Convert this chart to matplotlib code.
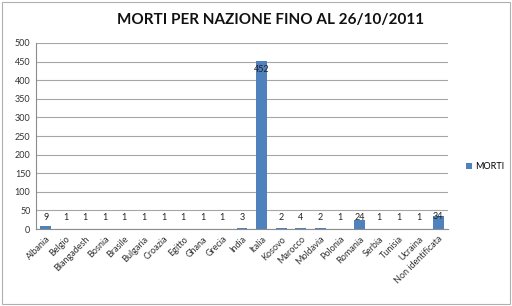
import matplotlib
matplotlib.use('Agg')
import matplotlib.pyplot as plt
from matplotlib.patches import Rectangle
import numpy as np

nazioni = ['Albania', 'Belgio', 'Blangadesh', 'Bosnia', 'Brasile', 'Bulgaria',
           'Croazia', 'Egitto', 'Ghana', 'Grecia', 'India', 'Italia', 'Kosovo',
           'Marocco', 'Moldavia', 'Polonia', 'Romania', 'Serbia', 'Tunisia',
           'Ucraina', 'Non identificata']
morti = [9, 1, 1, 1, 1, 1, 1, 1, 1, 1, 3, 452, 2, 4, 2, 1, 24, 1, 1, 1, 34]
y_ticks = list(range(0, 501, 50))

plt.rcParams['font.family'] = ['Lato', 'DejaVu Sans']

fig = plt.figure(figsize=(5.12, 3.06), dpi=100)
fig.patches.append(Rectangle((0.004, 0.006), 0.992, 0.988, transform=fig.transFigure,
                             fill=False, edgecolor='#b0b0b0', linewidth=0.8))
ax = fig.add_axes([0.0703, 0.2516, 0.8047, 0.6079])

x = np.arange(len(nazioni))
ax.bar(x, morti, width=0.55, color='#4f81bd', label='MORTI', zorder=3)
for xi, v in zip(x, morti):
    y = v - 22 if v > 400 else max(v, 30)
    ax.text(xi, y, str(v), ha='center', va='center', fontsize=6.5, color='#222222', zorder=4)

ax.set_xlim(-0.5, len(nazioni) - 0.5)
ax.set_ylim(0, 500)
ax.set_yticks(y_ticks)
ax.set_yticklabels([str(t) for t in y_ticks], fontsize=6.5, color='#333333')
ax.set_xticks(x)
ax.set_xticklabels(nazioni, rotation=45, ha='right', rotation_mode='anchor',
                   fontsize=6.5, color='#333333')
ax.tick_params(axis='both', length=0, pad=4)
ax.grid(axis='y', color='#a6a6a6', linewidth=0.8, zorder=0)
for s in ['top', 'right']:
    ax.spines[s].set_visible(False)
for s in ['left', 'bottom']:
    ax.spines[s].set_color('#8c8c8c')
    ax.spines[s].set_linewidth(0.8)

fig.text(0.528, 0.935, 'MORTI PER NAZIONE FINO AL 26/10/2011', ha='center', va='center',
         fontsize=11, fontweight='bold', color='#111111')
fig.legend(loc='center left', bbox_to_anchor=(0.895, 0.455), frameon=False,
           fontsize=6.5, handlelength=0.6, handleheight=0.6, handletextpad=0.4)

fig.savefig('out.png', dpi=100)
